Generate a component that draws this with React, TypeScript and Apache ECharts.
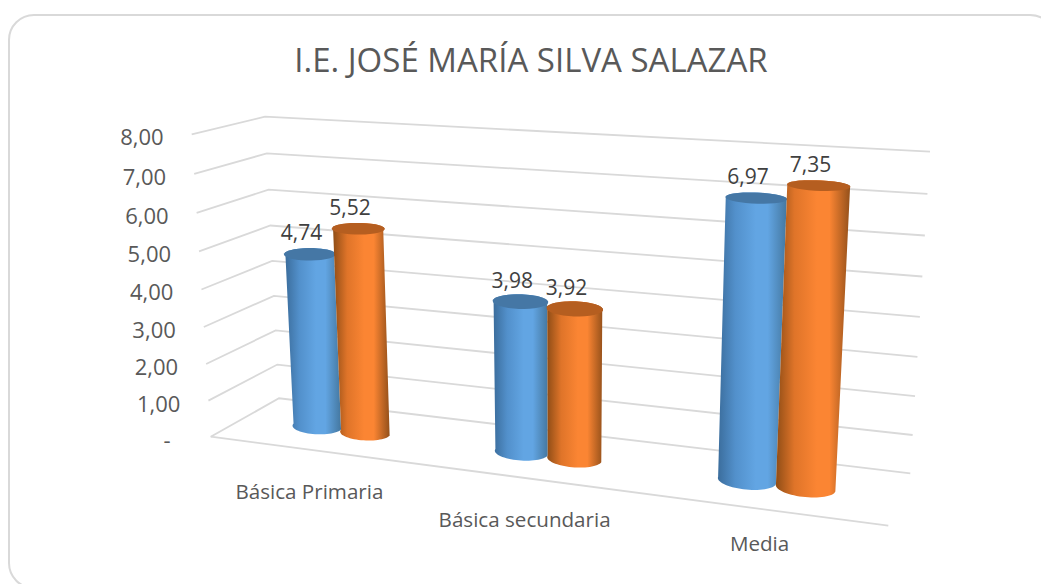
import React, { useEffect, useRef } from "react";
import * as echarts from "echarts";

const titleText = "I.E. JOSÉ MARÍA SILVA SALAZAR";
const categories = ["Básica Primaria", "Básica secundaria", "Media"];
const tickValues = [0, 1, 2, 3, 4, 5, 6, 7, 8];
const tickLabels = ["-", "1,00", "2,00", "3,00", "4,00", "5,00", "6,00", "7,00", "8,00"];
const seriesBlue = [4.74, 3.98, 6.97];
const seriesOrange = [5.52, 3.92, 7.35];
const blueLabels = ["4,74", "3,98", "6,97"];
const orangeLabels = ["5,52", "3,92", "7,35"];

const FONT = "'Open Sans', sans-serif";

type Q = number[][];
function homography(q: Q) {
  const [p0, p1, p2, p3] = q;
  const dx1 = p1[0] - p2[0], dx2 = p3[0] - p2[0], sx = p0[0] - p1[0] + p2[0] - p3[0];
  const dy1 = p1[1] - p2[1], dy2 = p3[1] - p2[1], sy = p0[1] - p1[1] + p2[1] - p3[1];
  const den = dx1 * dy2 - dx2 * dy1;
  const g = (sx * dy2 - dx2 * sy) / den;
  const h = (dx1 * sy - sx * dy1) / den;
  const a = p1[0] - p0[0] + g * p1[0], b = p3[0] - p0[0] + h * p3[0], c = p0[0];
  const d = p1[1] - p0[1] + g * p1[1], e = p3[1] - p0[1] + h * p3[1], f = p0[1];
  return (u: number, v: number) => {
    const z = g * u + h * v + 1;
    return [(a * u + b * v + c) / z, (d * u + e * v + f) / z];
  };
}
// Projection of the 3D box: front and back planes (u along categories, v up the value axis).
const front = homography([[210.7, 436.7], [888.3, 525.7], [909, 173.5], [191.7, 134.3]]);
const back = homography([[279, 398.3], [910.3, 473.3], [930, 151.7], [265, 116.7]]);
const project = (u: number, v: number, w: number) => {
  const a = front(u, v), b = back(u, v);
  return [a[0] + (b[0] - a[0]) * w, a[1] + (b[1] - a[1]) * w];
};

const norm = (params: any, api: any, pt: number[]) => {
  const cs = params.coordSys;
  return [(pt[0] - cs.x) / cs.width, 1 - (pt[1] - cs.y) / cs.height];
};

const gridItem = (params: any, api: any) => {
  const [, v] = norm(params, api, api.coord([0, api.value(1)]));
  const a = project(0, v, 0), b = project(0, v, 1), c = project(1, v, 1);
  const label = tickLabels[params.dataIndex];
  const children: any[] = [
    { type: "polyline", shape: { points: [a, b, c] }, style: { stroke: "#d9d9d9", lineWidth: 1.8, fill: "none" } },
    {
      type: "text", x: a[0] - (label === "-" ? 40 : 28), y: a[1] + 2,
      style: { text: label, align: "right", verticalAlign: "middle", fill: "#595959", fontSize: 22, fontFamily: FONT },
    },
  ];
  if (params.dataIndex === 0) {
    const d = project(1, 0, 0);
    children.push({ type: "line", shape: { x1: a[0], y1: a[1], x2: d[0], y2: d[1] }, style: { stroke: "#d9d9d9", lineWidth: 1.8 } });
  }
  return { type: "group", children };
};

const catLabelDrop = [41, 41, 34];
const catLabelItem = (params: any, api: any) => {
  const [u] = norm(params, api, api.coord([api.value(0), 0]));
  const a = project(u, 0, 0);
  return {
    type: "text", x: a[0] + (params.dataIndex === 1 ? 2 : 0), y: a[1] + catLabelDrop[params.dataIndex],
    style: { text: categories[params.dataIndex], align: "center", verticalAlign: "middle", fill: "#595959", fontSize: 20.6, fontFamily: FONT },
  };
};

const cylinder = (offset: number, stops: string[], capColor: string, labels: string[]) => (params: any, api: any) => {
  const band = api.size([1, 0])[0] / params.coordSys.width;
  const [uc0, vTop] = norm(params, api, api.coord([api.value(0), api.value(1)]));
  const uc = uc0 + offset * band;
  const ru = 0.122 * band, wc = 0.5, n = 32, shear = 0.6;
  const arc = (v: number, from: number, to: number, rw: number) => {
    const l = project(uc - ru, v, wc), r = project(uc + ru, v, wc);
    const cx = (l[0] + r[0]) / 2, cy = (l[1] + r[1]) / 2;
    const f = project(uc, v, 0), b = project(uc, v, 1);
    const dx = rw * shear * (f[0] - b[0]), dy = rw * (f[1] - b[1]);
    const out: number[][] = [];
    for (let i = 0; i <= n; i++) {
      const t = from + ((to - from) * i) / n;
      const c = Math.cos(t), s = Math.sin(t);
      out.push([cx + (c * (r[0] - l[0])) / 2 + s * dx, cy + (c * (r[1] - l[1])) / 2 + s * dy]);
    }
    return out;
  };
  const baseDepth = 0.18, capDepth = 0.215;
  const body = [...arc(0, Math.PI, 0, baseDepth), ...arc(vTop, 0, -Math.PI, capDepth)];
  const cap = arc(vTop, 0, 2 * Math.PI, capDepth);
  const topCenter = project(uc, vTop, wc);
  const fill = new echarts.graphic.LinearGradient(0, 0, 1, 0, [
    { offset: 0, color: stops[0] },
    { offset: 0.25, color: stops[1] },
    { offset: 0.55, color: stops[2] },
    { offset: 0.72, color: stops[2] },
    { offset: 1, color: stops[3] },
  ]);
  return {
    type: "group",
    children: [
      { type: "polygon", shape: { points: body }, style: { fill } },
      { type: "polygon", shape: { points: cap }, style: { fill: capColor } },
      {
        type: "text", x: topCenter[0] - 8, y: topCenter[1] - 22,
        style: { text: labels[params.dataIndex], align: "center", verticalAlign: "middle", fill: "#404040", fontSize: 21, fontFamily: FONT },
      },
    ],
  };
};

export default function App() {
  const ref = useRef<HTMLDivElement>(null);
  useEffect(() => {
    document.body.style.margin = "0";
    const chart = echarts.init(ref.current!, undefined, { renderer: "svg" });
    chart.setOption({
      animation: false,
      backgroundColor: "#ffffff",
      title: {
        text: titleText, left: 526, top: 38, textAlign: "center",
        textStyle: { color: "#595959", fontSize: 33, fontWeight: "normal", fontFamily: FONT },
      },
      graphic: [
        { type: "rect", silent: true, z: -1, shape: { x: 9, y: 15, width: 1046, height: 573, r: 25 }, style: { fill: "#ffffff", stroke: "#d9d9d9", lineWidth: 2 } },
      ],
      grid: { left: 0, top: 0, width: 1000, height: 500, containLabel: false },
      xAxis: { type: "category", data: categories, show: false },
      yAxis: { type: "value", min: 0, max: 8, interval: 1, show: false },
      series: [
        { type: "custom", name: "grid", z: 1, data: tickValues.map((v) => [0, v]), renderItem: gridItem, encode: { x: 0, y: 1 } },
        { type: "custom", name: "cats", z: 1, data: categories.map((_, i) => [i, 0]), renderItem: catLabelItem, encode: { x: 0, y: 1 } },
        {
          type: "custom", name: "Serie 1", z: 2, data: seriesBlue.map((v, i) => [i, v]), encode: { x: 0, y: 1 },
          renderItem: cylinder(-0.122, ["#3b6d9c", "#5290cb", "#62a5e3", "#44779f"], "#4577a5", blueLabels),
        },
        {
          type: "custom", name: "Serie 2", z: 3, data: seriesOrange.map((v, i) => [i, v]), encode: { x: 0, y: 1 },
          renderItem: cylinder(0.122, ["#8f4d16", "#df7429", "#fb8533", "#93501a"], "#b55e20", orangeLabels),
        },
      ],
    });
    return () => chart.dispose();
  }, []);
  return <div ref={ref} style={{ position: "absolute", left: 0, top: 0, width: 1041, height: 584 }} />;
}
